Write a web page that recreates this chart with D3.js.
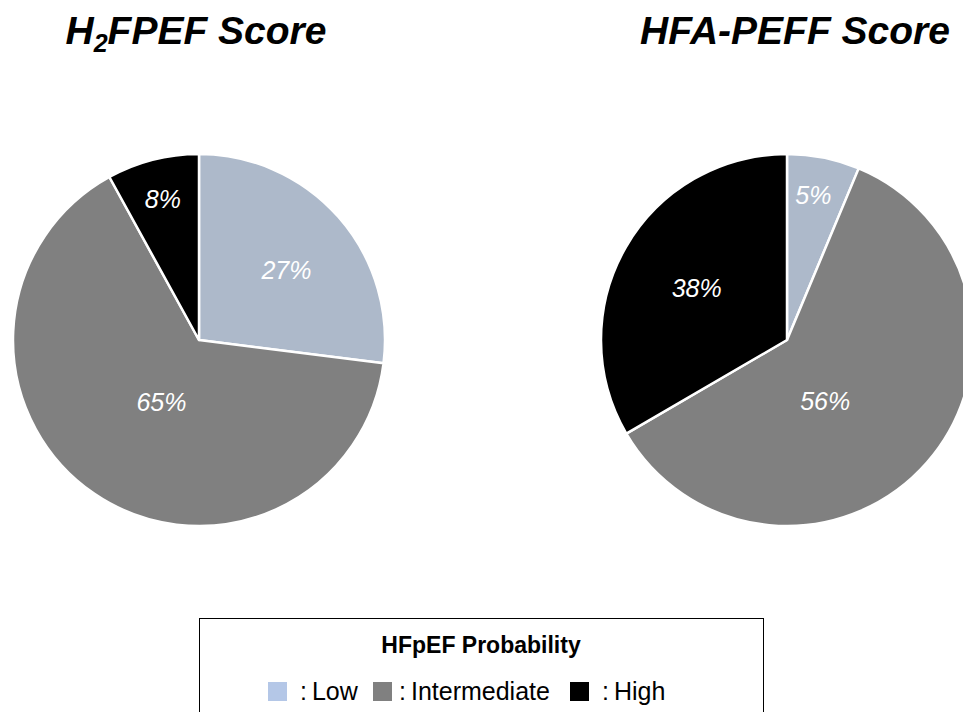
<!DOCTYPE html>
<html lang="en">
<head>
<meta charset="utf-8">
<title>HFpEF Probability</title>
<script src="https://d3js.org/d3.v7.min.js"></script>
<style>
  body { margin: 0; background: #fff; }
  svg { font-family: "Liberation Sans", Arial, sans-serif; }
  .title { font-weight: bold; font-style: italic; font-size: 39px; fill: #000; }
  .slice-label { font-style: italic; font-size: 25px; fill: #fff; }
</style>
</head>
<body>
<svg id="chart" width="963" height="712"></svg>
<script>
// categories
let categories = ["Low", "Intermediate", "High"];
// H2FPEF score: slice shares and printed labels
let h2fpefValues = [27, 65, 8];
let h2fpefLabels = ["27%", "65%", "8%"];
// HFA-PEFF score: slice shares as drawn in the picture, and printed labels
let hfaValues = [6.3, 60.3, 33.4];
let hfaLabels = ["5%", "56%", "38%"];

let pieColor = d3.scaleOrdinal().domain(categories).range(["#adb9ca", "#808080", "#000000"]);
let legendColor = d3.scaleOrdinal().domain(categories).range(["#b4c7e7", "#808080", "#000000"]);

let svg = d3.select("#chart");
let radius = 186;

function drawPie(cx, cy, values, labels, labelPos) {
    let data = categories.map((c, i) => ({ cat: c, value: values[i], label: labels[i] }));
    let pie = d3.pie().sort(null).value(d => d.value);
    let arc = d3.arc().innerRadius(0).outerRadius(radius);
    let arcs = pie(data);

    let g = svg.append("g").attr("transform", "translate(" + cx + "," + cy + ")");

    g.selectAll("path")
        .data(arcs)
        .enter()
        .append("path")
        .attr("d", arc)
        .attr("fill", d => pieColor(d.data.cat))
        .attr("stroke", "#fff")
        .attr("stroke-width", 2.5)
        .attr("stroke-linejoin", "round");

    // excel style "best fit" labels: radius fraction and angle nudge per slice
    g.selectAll("text")
        .data(arcs)
        .enter()
        .append("text")
        .attr("class", "slice-label")
        .attr("text-anchor", "middle")
        .attr("dy", "0.35em")
        .attr("transform", (d, i) => {
            let a = (d.startAngle + d.endAngle) / 2 + labelPos[i][1] * Math.PI / 180;
            let r = radius * labelPos[i][0];
            return "translate(" + (r * Math.sin(a)) + "," + (-r * Math.cos(a)) + ")";
        })
        .text(d => d.data.label);
}

drawPie(199, 340, h2fpefValues, h2fpefLabels, [[0.6, 3], [0.39, -3], [0.78, 0]]);
drawPie(787, 340, hfaValues, hfaLabels, [[0.79, -1], [0.39, 17], [0.56, 0]]);

// titles
let t1 = svg.append("text").attr("class", "title")
    .attr("x", 196).attr("y", 44).attr("text-anchor", "middle");
t1.append("tspan").text("H");
t1.append("tspan").attr("font-size", "25px").attr("dy", 8).text("2");
t1.append("tspan").attr("dy", -8).text("FPEF Score");

svg.append("text").attr("class", "title")
    .attr("x", 795).attr("y", 44).attr("text-anchor", "middle")
    .text("HFA-PEFF Score");

// legend
let legend = svg.append("g");
legend.append("rect")
    .attr("x", 199.5).attr("y", 618.5)
    .attr("width", 564).attr("height", 120)
    .attr("fill", "#fff")
    .attr("stroke", "#000")
    .attr("stroke-width", 1);

legend.append("text")
    .attr("x", 481).attr("y", 653)
    .attr("text-anchor", "middle")
    .attr("font-weight", "bold")
    .attr("font-size", "23px")
    .text("HFpEF Probability");

let legendX = [268, 373, 570];
let item = legend.selectAll("g.item")
    .data(categories)
    .enter()
    .append("g")
    .attr("class", "item")
    .attr("transform", (d, i) => "translate(" + legendX[i] + ",682)");

item.append("rect")
    .attr("width", 19).attr("height", 19)
    .attr("fill", d => legendColor(d));

item.append("text")
    .attr("x", (d, i) => i === 1 ? 26 : 32).attr("y", 18)
    .attr("font-size", "25px")
    .text(d => ":\u2009" + d);
</script>
</body>
</html>
